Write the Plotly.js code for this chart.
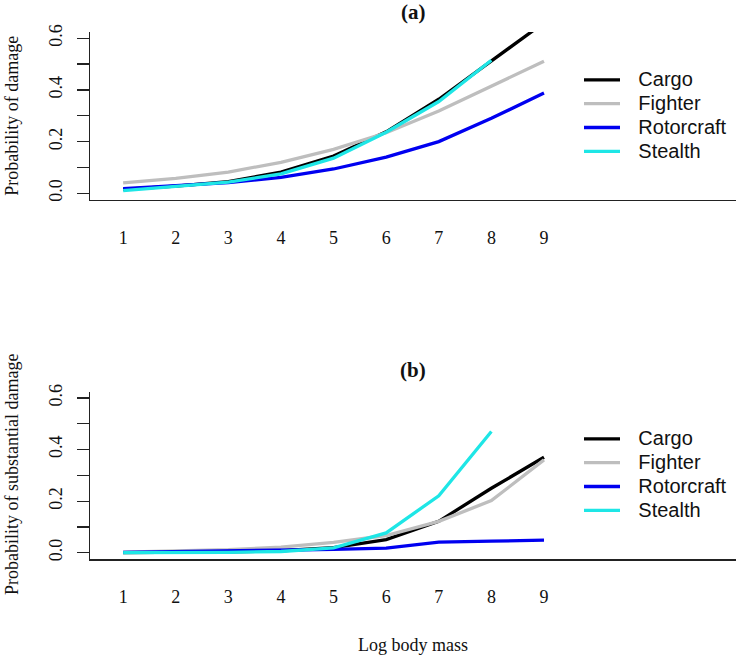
<!DOCTYPE html>
<html>
<head>
<meta charset="utf-8">
<script src="https://cdn.plot.ly/plotly-3.0.1.min.js"></script>
<style>
  html, body { margin: 0; padding: 0; background: #fff; }
  #chart { width: 738px; height: 655px; }
</style>
</head>
<body>
<div id="chart"></div>
<script>
const logMass = [1, 2, 3, 4, 5, 6, 7, 8, 9];
const seriesNames = ['Cargo', 'Fighter', 'Rotorcraft', 'Stealth'];
const seriesColors = ['#000000', '#BEBEBE', '#0000F0', '#1EE6E6'];

// panel (a): probability of damage
const damageCargo = [0.015, 0.028, 0.045, 0.082, 0.144, 0.238, 0.364, 0.512, 0.66];
const damageFighter = [0.040, 0.058, 0.082, 0.120, 0.170, 0.234, 0.318, 0.416, 0.511];
const damageRotorcraft = [0.018, 0.029, 0.041, 0.062, 0.094, 0.140, 0.200, 0.290, 0.388];
const damageStealth = [0.010, 0.025, 0.043, 0.075, 0.136, 0.236, 0.355, 0.515, null];

// panel (b): probability of substantial damage
const substCargo = [0.001, 0.002, 0.004, 0.008, 0.020, 0.051, 0.122, 0.250, 0.370];
const substFighter = [0.003, 0.007, 0.012, 0.022, 0.040, 0.067, 0.122, 0.202, 0.360];
const substRotorcraft = [0.002, 0.004, 0.007, 0.009, 0.013, 0.018, 0.041, 0.045, 0.049];
const substStealth = [0.001, 0.001, 0.002, 0.005, 0.019, 0.077, 0.221, 0.470, null];

const yTickVals = [0, 0.2, 0.4, 0.6];
const yTickText = ['0.0', '0.2', '0.4', '0.6'];

const serif = 'Liberation Serif, Times New Roman, serif';
const sans = 'Liberation Sans, Arial, sans-serif';

function makeTraces(values, xaxis, yaxis, legend) {
    return values.map((y, i) => ({
        x: logMass,
        y: y,
        mode: 'lines',
        xaxis: xaxis,
        yaxis: yaxis,
        legend: legend,
        // legend rows are packed tighter than the label size, so the label gets its own size
        name: '\u00a0\u00a0\u00a0<span style="font-size:20px">' + seriesNames[i] + '</span>',
        line: {
            width: 3.3,
            color: seriesColors[i],
        },
    }));
}

const data = [
    ...makeTraces([damageCargo, damageFighter, damageRotorcraft, damageStealth], 'x', 'y', 'legend'),
    ...makeTraces([substCargo, substFighter, substRotorcraft, substStealth], 'x2', 'y2', 'legend2'),
];

const H = 655;
function py(pixel) {
    return 1 - pixel / H;
}

function xAxis(anchor) {
    return {
        anchor: anchor,
        range: [0.37, 12.65],
        showline: true,
        linecolor: '#222',
        linewidth: 1.5,
        showgrid: false,
        zeroline: false,
        ticks: '',
        tickvals: logMass,
        ticklabelstandoff: 21,
        tickfont: { family: serif, size: 18, color: '#111' },
    };
}

function yAxis(anchor, domain) {
    return {
        anchor: anchor,
        domain: domain,
        range: [-0.024, 0.624],
        showline: true,
        linecolor: '#222',
        linewidth: 1.5,
        showgrid: false,
        zeroline: false,
        ticks: 'outside',
        ticklen: 12,
        tickwidth: 1.3,
        tickcolor: '#222',
        tickvals: yTickVals,
        ticktext: yTickText,
        tickangle: -90,
        ticklabelstandoff: 7,
        tickfont: { family: serif, size: 18, color: '#111' },
        minor: {
            tickvals: [0.1, 0.3, 0.5],
            ticks: 'outside',
            ticklen: 12,
            tickwidth: 1.3,
            tickcolor: '#222',
            showgrid: false,
        },
    };
}

function legendBox(topPixel) {
    return {
        x: (579 - 90) / 646,
        xanchor: 'left',
        y: py(topPixel),
        yanchor: 'top',
        bgcolor: 'rgba(0,0,0,0)',
        borderwidth: 0,
        itemwidth: 36,
        font: { family: sans, size: 16, color: '#111' },
        tracegroupgap: 0,
    };
}

const layout = {
    width: 738,
    height: 655,
    margin: { l: 90, r: 2, t: 0, b: 0 },
    paper_bgcolor: '#ffffff',
    plot_bgcolor: '#ffffff',
    showlegend: true,

    xaxis: xAxis('y'),
    yaxis: yAxis('x', [py(199.5), py(32)]),
    xaxis2: xAxis('y2'),
    yaxis2: yAxis('x2', [py(559), py(391.7)]),

    legend: legendBox(63),
    legend2: legendBox(422),

    annotations: [
        {
            text: '<b>(a)</b>', xref: 'x domain', yref: 'paper',
            x: 0.5, y: py(12), xanchor: 'center', yanchor: 'middle',
            showarrow: false, font: { family: serif, size: 21, color: '#111' },
        },
        {
            text: '<b>(b)</b>', xref: 'x domain', yref: 'paper',
            x: 0.5, y: py(370), xanchor: 'center', yanchor: 'middle',
            showarrow: false, font: { family: serif, size: 21, color: '#111' },
        },
        {
            text: 'Probability of damage', xref: 'paper', yref: 'paper',
            x: (12 - 90) / 646, y: py(115.7), xanchor: 'center', yanchor: 'middle',
            textangle: -90, showarrow: false, borderpad: 0,
            font: { family: serif, size: 18, color: '#111' },
        },
        {
            text: 'Probability of substantial damage', xref: 'paper', yref: 'paper',
            x: (12 - 90) / 646, y: py(475), xanchor: 'center', yanchor: 'middle',
            textangle: -90, showarrow: false, borderpad: 0,
            font: { family: serif, size: 18, color: '#111' },
        },
        {
            text: 'Log body mass', xref: 'paper', yref: 'paper',
            x: 0.5, y: py(645), xanchor: 'center', yanchor: 'middle',
            showarrow: false, font: { family: serif, size: 18, color: '#111' },
        },
    ],
};

const config = {
    staticPlot: true,
};

Plotly.newPlot('chart', data, layout, config);
</script>
</body>
</html>
